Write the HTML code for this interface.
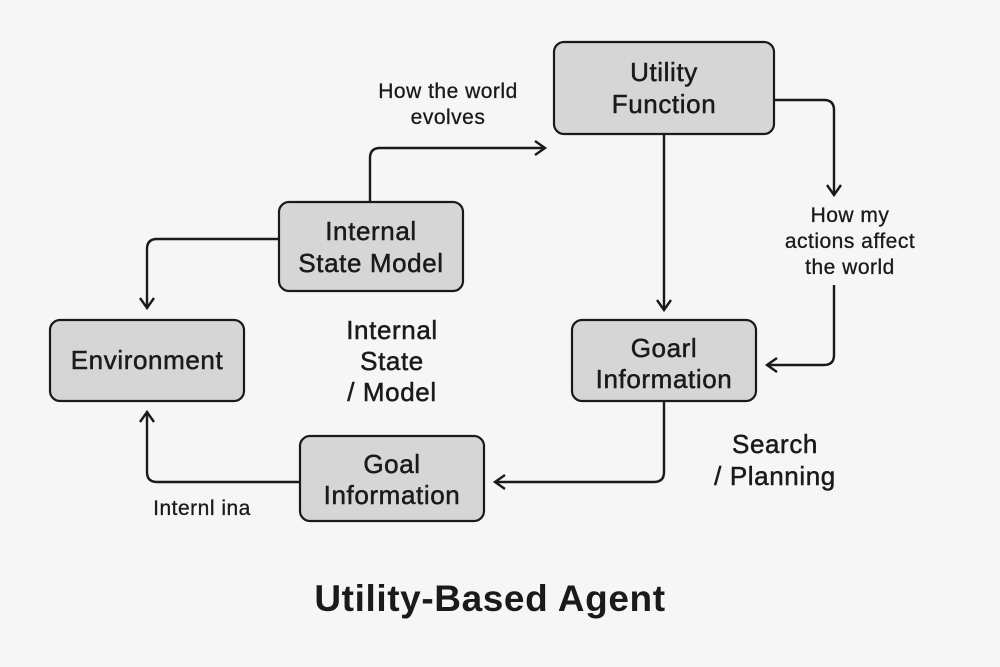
<!DOCTYPE html>
<html><head><meta charset="utf-8"><style>
html,body{margin:0;padding:0;background:#f6f6f6;}
svg{display:block}
text{font-family:"Liberation Sans",sans-serif;fill:#1a1a1a}
.m{stroke:#1a1a1a;stroke-width:0.5}
</style></head><body>
<svg width="1000" height="667" viewBox="0 0 1000 667" xmlns="http://www.w3.org/2000/svg">
<rect width="1000" height="667" fill="#f6f6f6"/>
<defs>
<marker id="a" markerWidth="16" markerHeight="16" refX="12" refY="8" orient="auto" markerUnits="userSpaceOnUse">
<path d="M2,1 L12,8 L2,15" fill="none" stroke="#1a1a1a" stroke-width="2.4"/>
</marker>
</defs>
<g fill="none" stroke="#1a1a1a" stroke-width="2.4">
<path d="M370,202 V158 Q370,148 380,148 H545" marker-end="url(#a)"/>
<path d="M279,239 H157 Q147,239 147,249 V308" marker-end="url(#a)"/>
<path d="M664,134 V310" marker-end="url(#a)"/>
<path d="M774,100 H824 Q834,100 834,110 V195" marker-end="url(#a)"/>
<path d="M834,285 V355 Q834,365 824,365 H767" marker-end="url(#a)"/>
<path d="M664,401 V472 Q664,482 654,482 H495" marker-end="url(#a)"/>
<path d="M300,482 H157 Q147,482 147,472 V412" marker-end="url(#a)"/>
</g>
<g fill="#d6d6d6" stroke="#1a1a1a" stroke-width="2.2">
<rect x="554" y="42" width="220" height="92" rx="10"/>
<rect x="279" y="202" width="184" height="89" rx="10"/>
<rect x="50" y="320" width="194" height="81" rx="10"/>
<rect x="572" y="320" width="184" height="81" rx="10"/>
<rect x="300" y="436" width="184" height="85" rx="10"/>
</g>
<g font-size="26" text-anchor="middle" class="m" letter-spacing="0.6">
<text x="664" y="81">Utility</text>
<text x="664" y="113">Function</text>
<text x="371" y="240">Internal</text>
<text x="371" y="272">State Model</text>
<text x="147" y="369">Environment</text>
<text x="664" y="357">Goarl</text>
<text x="664" y="388">Information</text>
<text x="392" y="473">Goal</text>
<text x="392" y="504">Information</text>
</g>
<g font-size="21" text-anchor="middle" letter-spacing="0.5" class="m" style="stroke-width:0.3">
<text x="448" y="98">How the world</text>
<text x="448" y="124">evolves</text>
<text x="850" y="222">How my</text>
<text x="850" y="248">actions affect</text>
<text x="850" y="274">the world</text>
<text x="202" y="515">Internl ina</text>
</g>
<g font-size="26" text-anchor="middle" class="m" letter-spacing="0.6">
<text x="392" y="339">Internal</text>
<text x="392" y="370">State</text>
<text x="392" y="401">/ Model</text>
<text x="775" y="453">Search</text>
<text x="775" y="485">/ Planning</text>
</g>
<text x="490" y="611" font-size="37" font-weight="bold" text-anchor="middle" letter-spacing="0.6">Utility-Based Agent</text>
</svg>
</body></html>
